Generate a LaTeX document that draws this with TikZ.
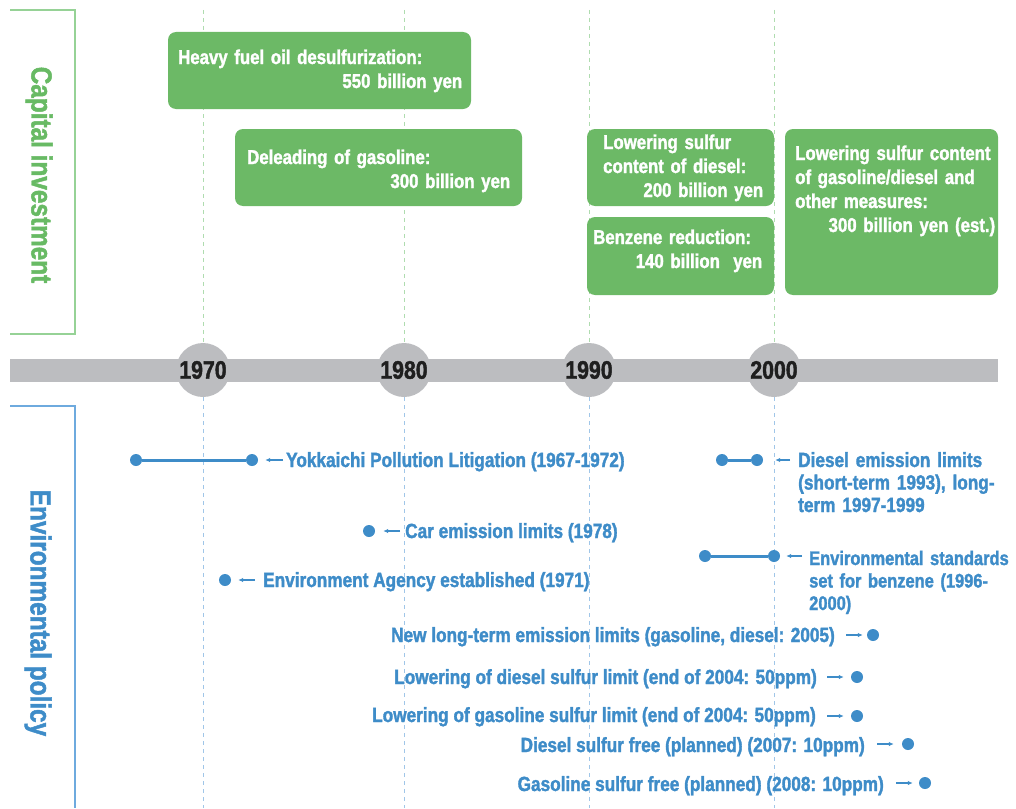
\documentclass[tikz,border=0pt]{standalone}
\usepackage{fontspec}
\newfontfamily\cf{Liberation Sans Bold}[FakeStretch=0.84, FakeBold=1.6]
\usetikzlibrary{arrows.meta}
\definecolor{gfill}{RGB}{108,185,102}
\definecolor{gtext}{RGB}{104,186,100}
\definecolor{gline}{RGB}{150,210,150}
\definecolor{gdashc}{RGB}{175,220,175}
\definecolor{bluet}{RGB}{62,140,200}
\definecolor{bline}{RGB}{110,170,222}
\definecolor{bdashc}{RGB}{160,198,232}
\definecolor{tgray}{RGB}{188,189,192}
\tikzset{
  gbox/.style={draw=none, fill=gfill, rounded corners=8pt, inner sep=0pt},
  btxt/.style={font=\cf\fontsize{20}{24}\selectfont, text=white, inner sep=0pt, anchor=base west, align=left},
  lbl/.style={font=\cf\fontsize{20.5}{22.5}\selectfont, text=bluet, inner sep=0pt},
  side/.style={font=\cf\fontsize{29}{30}\selectfont, inner sep=0pt, rotate=-90},
  dotn/.style={circle, fill=bluet, minimum size=12pt, inner sep=0pt},
  arr/.style={draw=bluet, line width=1.2pt, -{Latex[length=5pt,width=4.5pt]}},
  spanl/.style={draw=bluet, line width=3pt},
  yearc/.style={circle, fill=tgray, minimum size=54pt, inner sep=0pt, font=\cf\fontsize{25.3}{25}\selectfont, text=black!88},
  gdash/.style={draw=gdashc, line width=1pt, dash pattern=on 4pt off 4pt},
  bdash/.style={draw=bdashc, line width=1pt, dash pattern=on 4pt off 4pt},
  gbr/.style={draw=gline, line width=1.5pt},
  bbr/.style={draw=bline, line width=1.5pt}
}
\begin{document}
\begin{tikzpicture}[x=1pt,y=-1pt]
\useasboundingbox (0,0) rectangle (1016,808);
% dashed year guides
\foreach \x in {203,404,589,774}{
  \draw[gdash] (\x,10) -- (\x,343);
  \draw[bdash] (\x,397) -- (\x,808);
}
% brackets and side labels
\draw[gbr] (10,10) -- (75,10) -- (75,334) -- (10,334);
\draw[bbr] (10,406) -- (75,406) -- (75,808);
\node[side, text=gtext] (cap) at (39,175) {Capital investment};
\node[side, text=bluet] (env) at (38,613) {Environmental policy};
% timeline
\fill[tgray] (10,359) rectangle (998,382);
\node[yearc] (y1970) at (203,370) {1970};
\node[yearc] (y1980) at (404,370) {1980};
\node[yearc] (y1990) at (589,370) {1990};
\node[yearc] (y2000) at (774,370) {2000};
% capital investment boxes
\node[gbox, minimum width=303pt, minimum height=77pt] (b1) at (319.5,70.5) {};
\node[btxt, text width=284pt] (t1) at (178,64) {\mbox{Heavy fuel oil desulfurization:}\\\hspace*{\fill}\mbox{550 billion yen}};
\node[gbox, minimum width=287pt, minimum height=77pt] (b2) at (378.5,167.5) {};
\node[btxt, text width=263pt] (t2) at (247,164) {\mbox{Deleading of gasoline:}\\\hspace*{\fill}\mbox{300 billion yen}};
\node[gbox, minimum width=187pt, minimum height=77pt] (b3) at (680.5,167.5) {};
\node[btxt, text width=160pt] (t3) at (603,149) {\mbox{Lowering sulfur}\\\mbox{content of diesel:}\\\hspace*{\fill}\mbox{200 billion yen}};
\node[gbox, minimum width=187pt, minimum height=78pt] (b4) at (680.5,256) {};
\node[btxt, text width=169pt] (t4) at (593,244) {\mbox{Benzene reduction:}\\\hspace*{\fill}\mbox{140 billion\ \ yen}};
\node[gbox, minimum width=213pt, minimum height=166pt] (b5) at (891.5,212) {};
\node[btxt, text width=200pt] (t5) at (795,160) {\mbox{Lowering sulfur content}\\\mbox{of gasoline/diesel and}\\\mbox{other measures:}\\\hspace*{\fill}\mbox{300 billion yen (est.)}};
% environmental policy: left-pointing items
\node[dotn] (yk1) at (136,460) {};
\node[dotn] (yk2) at (252,460) {};
\draw[spanl] (yk1) -- (yk2);
\node[lbl, anchor=base west] (yk) at (286,467) {Yokkaichi Pollution Litigation (1967-1972)};
\draw[arr, shorten <=3pt, shorten >=7pt] (yk2.east -| yk.west) -- (yk2.east);

\node[dotn] (ce1) at (369,531) {};
\node[lbl, anchor=base west] (ce) at (405,538) {Car emission limits (1978)};
\draw[arr, shorten <=5pt, shorten >=8pt] (ce1.east -| ce.west) -- (ce1.east);

\node[dotn] (ea1) at (225,580) {};
\node[lbl, anchor=base west] (ea) at (263,587) {Environment Agency established (1971)};
\draw[arr, shorten <=8pt, shorten >=7pt] (ea1.east -| ea.west) -- (ea1.east);

\node[dotn] (de1) at (722,460) {};
\node[dotn] (de2) at (757,460) {};
\draw[spanl] (de1) -- (de2);
\node[lbl, anchor=base west, text width=215pt, align=left] (de) at (798,467) {\mbox{Diesel emission limits}\\\mbox{(short-term 1993), long-}\\\mbox{term 1997-1999}};
\draw[arr, shorten <=8pt, shorten >=12pt] (de2.east -| de.west) -- (de2.east);

\node[dotn] (es1) at (705,556) {};
\node[dotn] (es2) at (774,556) {};
\draw[spanl] (es1) -- (es2);
\node[lbl, font=\cf\fontsize{19.6}{22.5}\selectfont, anchor=base west, text width=200pt, align=left] (es) at (809,565) {\mbox{Environmental standards}\\\mbox{set for benzene (1996-}\\\mbox{2000)}};
\draw[arr, shorten <=7pt, shorten >=6pt] (es2.east -| es.west) -- (es2.east);

% environmental policy: right-pointing items
\node[dotn] (nl1) at (873,635) {};
\node[lbl, anchor=base east] (nl) at (835,642) {New long-term emission limits (gasoline, diesel: 2005)};
\draw[arr, shorten <=11pt, shorten >=4pt] (nl1.west -| nl.east) -- (nl1.west);

\node[dotn] (ld1) at (857,677) {};
\node[lbl, anchor=base east] (ld) at (817,684) {Lowering of diesel sulfur limit (end of 2004: 50ppm)};
\draw[arr, shorten <=10pt, shorten >=7pt] (ld1.west -| ld.east) -- (ld1.west);

\node[dotn] (lg1) at (857,716) {};
\node[lbl, anchor=base east] (lg) at (816,722) {Lowering of gasoline sulfur limit (end of 2004: 50ppm)};
\draw[arr, shorten <=11pt, shorten >=7pt] (lg1.west -| lg.east) -- (lg1.west);

\node[dotn] (ds1) at (908,744) {};
\node[lbl, anchor=base east] (ds) at (865,752) {Diesel sulfur free (planned) (2007: 10ppm)};
\draw[arr, shorten <=12pt, shorten >=8pt] (ds1.west -| ds.east) -- (ds1.west);

\node[dotn] (gs1) at (925,783) {};
\node[lbl, anchor=base east] (gs) at (884,791) {Gasoline sulfur free (planned) (2008: 10ppm)};
\draw[arr, shorten <=12pt, shorten >=6pt] (gs1.west -| gs.east) -- (gs1.west);
\end{tikzpicture}
\end{document}
